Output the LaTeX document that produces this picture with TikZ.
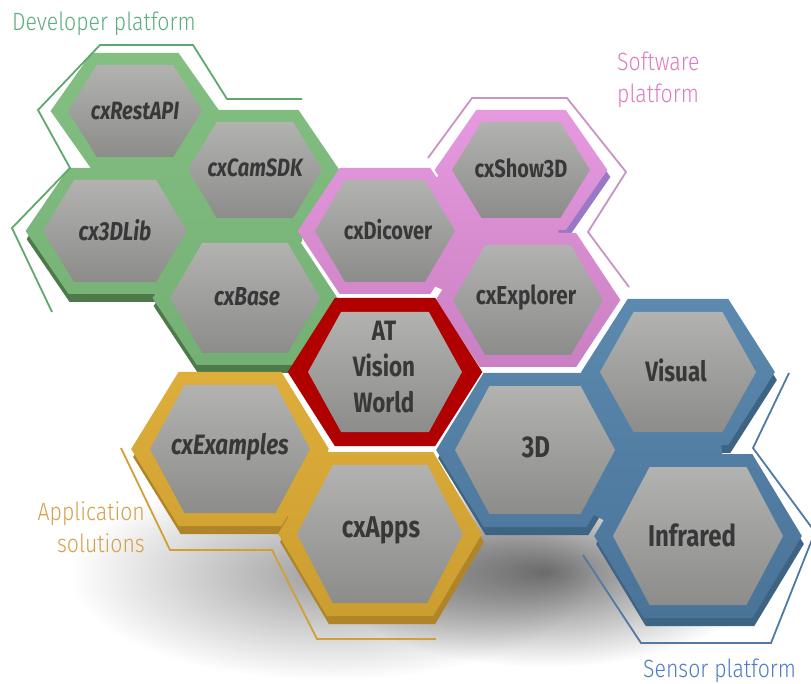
\documentclass[tikz,border=0pt]{standalone}
\usepackage{fontspec}
\usetikzlibrary{calc,fadings}
\newfontfamily\hexfont[FakeStretch=0.8]{Fira Sans}
\newfontfamily\titlefont[FakeStretch=0.85]{Fira Sans Light}
\definecolor{greentop}{HTML}{84BF82}
\definecolor{greenbot}{HTML}{74B074}
\definecolor{greendark}{HTML}{4E7A4A}
\definecolor{greenline}{HTML}{5EA86C}
\definecolor{greentitle}{HTML}{5AAE80}
\definecolor{pinktop}{HTML}{E699DF}
\definecolor{pinkbot}{HTML}{C980C2}
\definecolor{pinkdark}{HTML}{9A78C8}
\definecolor{pinkline}{HTML}{C994C4}
\definecolor{pinktitle}{HTML}{DC7CC2}
\definecolor{atred}{HTML}{B00000}
\definecolor{yeltop}{HTML}{DDAE3A}
\definecolor{yelbot}{HTML}{CC9E30}
\definecolor{yeldark}{HTML}{B08428}
\definecolor{yelline}{HTML}{D0A034}
\definecolor{yeltitle}{HTML}{D4A04A}
\definecolor{bluetop}{HTML}{5C89AF}
\definecolor{bluebot}{HTML}{4A7398}
\definecolor{bluedark}{HTML}{3E6484}
\definecolor{blueline}{HTML}{4E7AA5}
\definecolor{bluetitle}{HTML}{4C7CC4}
\definecolor{gtop}{HTML}{B2B3B0}
\definecolor{gbot}{HTML}{8C8C8A}
\definecolor{labelgray}{HTML}{383838}
\tikzfading[name=softfade, inner color=transparent!0, outer color=transparent!100]
% hexagon path: centre x, centre y, half width, half height, extra border
\newcommand\hx[5]{({#1-#3-1.45*#5},{#2}) -- ({#1-0.57*#3-0.45*#5},{#2-#4-#5}) -- ({#1+0.57*#3+0.45*#5},{#2-#4-#5}) -- ({#1+#3+1.45*#5},{#2}) -- ({#1+0.57*#3+0.45*#5},{#2+#4+#5}) -- ({#1-0.57*#3-0.45*#5},{#2+#4+#5}) -- cycle}
% band joining two cell centres (same turning sense as the hexagons); #3 = half width
\newcommand\band[3]{($(#1)!#3pt!90:(#2)$) -- ($(#2)!#3pt!-90:(#1)$) -- ($(#2)!#3pt!90:(#1)$) -- ($(#1)!#3pt!-90:(#2)$) -- cycle}
\tikzset{
  graycell/.style={top color=gtop, bottom color=gbot},
  hexlabel/.style={text=labelgray, align=center, inner sep=0pt},
  bracket/.style={line width=1.8pt, line join=miter},
  titletext/.style={font=\titlefont\fontsize{25}{32}\selectfont, inner sep=0pt},
  shadowblob/.style={fill=black, path fading=softfade},
}
\begin{document}
\begin{tikzpicture}[x=1pt,y=-1pt]
\useasboundingbox (0,0) rectangle (811,684);
\clip (0,0) rectangle (811,684);
\fill[white] (0,0) rectangle (811,684);
% cell centres
\coordinate (cRest) at (135,111);
\coordinate (cCam) at (255,170);
\coordinate (cLib) at (115,231);
\coordinate (cBase) at (245,298);
\coordinate (cDic) at (385,231);
\coordinate (cShow) at (521,170);
\coordinate (cExp) at (528,300);
\coordinate (cAT) at (385,372);
\coordinate (cExa) at (230,449);
\coordinate (cApps) at (380,534);
\coordinate (c3D) at (535,450);
\coordinate (cVis) at (678,372);
\coordinate (cIR) at (698,536);
% soft shadows
\path[shadowblob, opacity=0.38] (330,575) ellipse (260 and 105);
\path[shadowblob, opacity=0.55] (545,572) ellipse (220 and 95);
% extrusions
\fill[bluedark, shift={(2,8)}] \hx{535}{450}{80}{64}{13} \hx{678}{372}{78}{60}{13} \hx{698}{536}{85}{69}{13};
\fill[greendark, shift={(1,8)}] \hx{115}{231}{72}{51}{12} \hx{245}{298}{75}{55}{12};
\fill[pinkdark, shift={(3,7)}] \hx{521}{170}{69}{48}{12};
\fill[yeldark, shift={(2,8)}] \hx{230}{449}{80}{64}{13} \hx{380}{534}{83}{69}{13};
% coloured faces (hexagons joined by fillers between centres)
\path[top color=bluetop, bottom color=bluebot] \hx{535}{450}{80}{64}{13} \hx{678}{372}{78}{60}{13} \hx{698}{536}{85}{69}{13}
  (c3D) -- (cVis) -- (cIR) -- cycle \band{c3D}{cVis}{30} \band{c3D}{cIR}{30} \band{cVis}{cIR}{34};
\path[top color=greentop, bottom color=greenbot] \hx{135}{111}{67}{46}{12} \hx{255}{170}{67}{48}{12} \hx{115}{231}{72}{51}{12} \hx{245}{298}{75}{55}{12}
  (cRest) -- (cCam) -- (cBase) -- (cLib) -- cycle \band{cRest}{cCam}{28} \band{cRest}{cLib}{32} \band{cCam}{cLib}{28} \band{cCam}{cBase}{36} \band{cLib}{cBase}{28}
  (270,222) -- (302,222) -- (302,242) -- (270,242) -- cycle;
\path[top color=pinktop, bottom color=pinkbot] \hx{385}{231}{70}{51}{12} \hx{521}{170}{69}{48}{12} \hx{528}{300}{75}{55}{12}
  (cDic) -- (cShow) -- (cExp) -- cycle \band{cDic}{cShow}{28} \band{cDic}{cExp}{28} \band{cShow}{cExp}{34};
\path[top color=yeltop, bottom color=yelbot] \hx{230}{449}{80}{64}{13} \hx{380}{534}{83}{69}{13} \band{cExa}{cApps}{30};
\fill[atred] \hx{385}{372}{77}{60}{14};
% grey cells
\path[graycell] \hx{135}{111}{67}{46}{0};
\path[graycell] \hx{255}{170}{67}{48}{0};
\path[graycell] \hx{115}{231}{72}{51}{0};
\path[graycell] \hx{245}{298}{75}{55}{0};
\path[graycell] \hx{385}{231}{70}{51}{0};
\path[graycell] \hx{521}{170}{69}{48}{0};
\path[graycell] \hx{528}{300}{75}{55}{0};
\path[graycell] \hx{385}{372}{77}{60}{0};
\path[graycell] \hx{230}{449}{80}{64}{0};
\path[graycell] \hx{380}{534}{83}{69}{0};
\path[graycell] \hx{535}{450}{80}{64}{0};
\path[graycell] \hx{678}{372}{78}{60}{0};
\path[graycell] \hx{698}{536}{85}{69}{0};
% bracket lines
\draw[bracket, greenline] (302,99) -- (227,99) -- (193,45) -- (100,45) -- (38,110) -- (70,168) -- (12,228) -- (52,312);
\draw[bracket, pinkline] (428,158) -- (472,98) -- (567,98) -- (626,172) -- (588,232) -- (629,287);
\draw[bracket, yelline] (121,448) -- (170,550) -- (272,550) -- (317,639) -- (436,639);
\draw[bracket, blueline] (583,555) -- (641,643) -- (771,643) -- (815,532) -- (753,448) -- (789,373);
% titles
\node[titletext, text=greentitle, anchor=base west] (tdev) at (12,31) {Developer platform};
\node[titletext, text=pinktitle, anchor=base west, align=left] (tsoft) at (617,103) {Software\\platform};
\node[titletext, text=yeltitle, anchor=base east, align=right] (tapp) at (145,552) {Application\\solutions};
\node[titletext, text=bluetitle, anchor=base west] (tsens) at (643,677) {Sensor platform};
% labels
\node[hexlabel, font=\hexfont\bfseries\itshape\fontsize{25}{28}\selectfont] (lrest) at (cRest) {cxRestAPI};
\node[hexlabel, font=\hexfont\bfseries\itshape\fontsize{25}{28}\selectfont] (lcam) at (255,168) {cxCamSDK};
\node[hexlabel, font=\hexfont\bfseries\itshape\fontsize{26}{30}\selectfont] (llib) at (115,230) {cx3DLib};
\node[hexlabel, font=\hexfont\bfseries\itshape\fontsize{26}{30}\selectfont] (lbase) at (247,297) {cxBase};
\node[hexlabel, font=\hexfont\bfseries\fontsize{25}{30}\selectfont] (ldic) at (388,230) {cxDicover};
\node[hexlabel, font=\hexfont\bfseries\fontsize{25}{28}\selectfont] (lshow) at (521,168) {cxShow3D};
\node[hexlabel, font=\hexfont\bfseries\fontsize{26}{30}\selectfont] (lexp) at (526,298) {cxExplorer};
\node[hexlabel, font=\hexfont\bfseries\fontsize{28}{36}\selectfont] (lat) at (384,367) {AT\\Vision\\World};
\node[hexlabel, font=\hexfont\bfseries\itshape\fontsize{28}{32}\selectfont] (lexa) at (230,447) {cxExamples};
\node[hexlabel, font=\hexfont\bfseries\fontsize{30}{34}\selectfont] (lapps) at (381,530) {cxApps};
\node[hexlabel, font=\hexfont\bfseries\fontsize{30}{34}\selectfont] (l3d) at (536,447) {3D};
\node[hexlabel, font=\hexfont\bfseries\fontsize{28}{32}\selectfont] (lvis) at (676,370) {Visual};
\node[hexlabel, font=\hexfont\bfseries\fontsize{30}{34}\selectfont] (lir) at (692,535) {Infrared};
\end{tikzpicture}
\end{document}
